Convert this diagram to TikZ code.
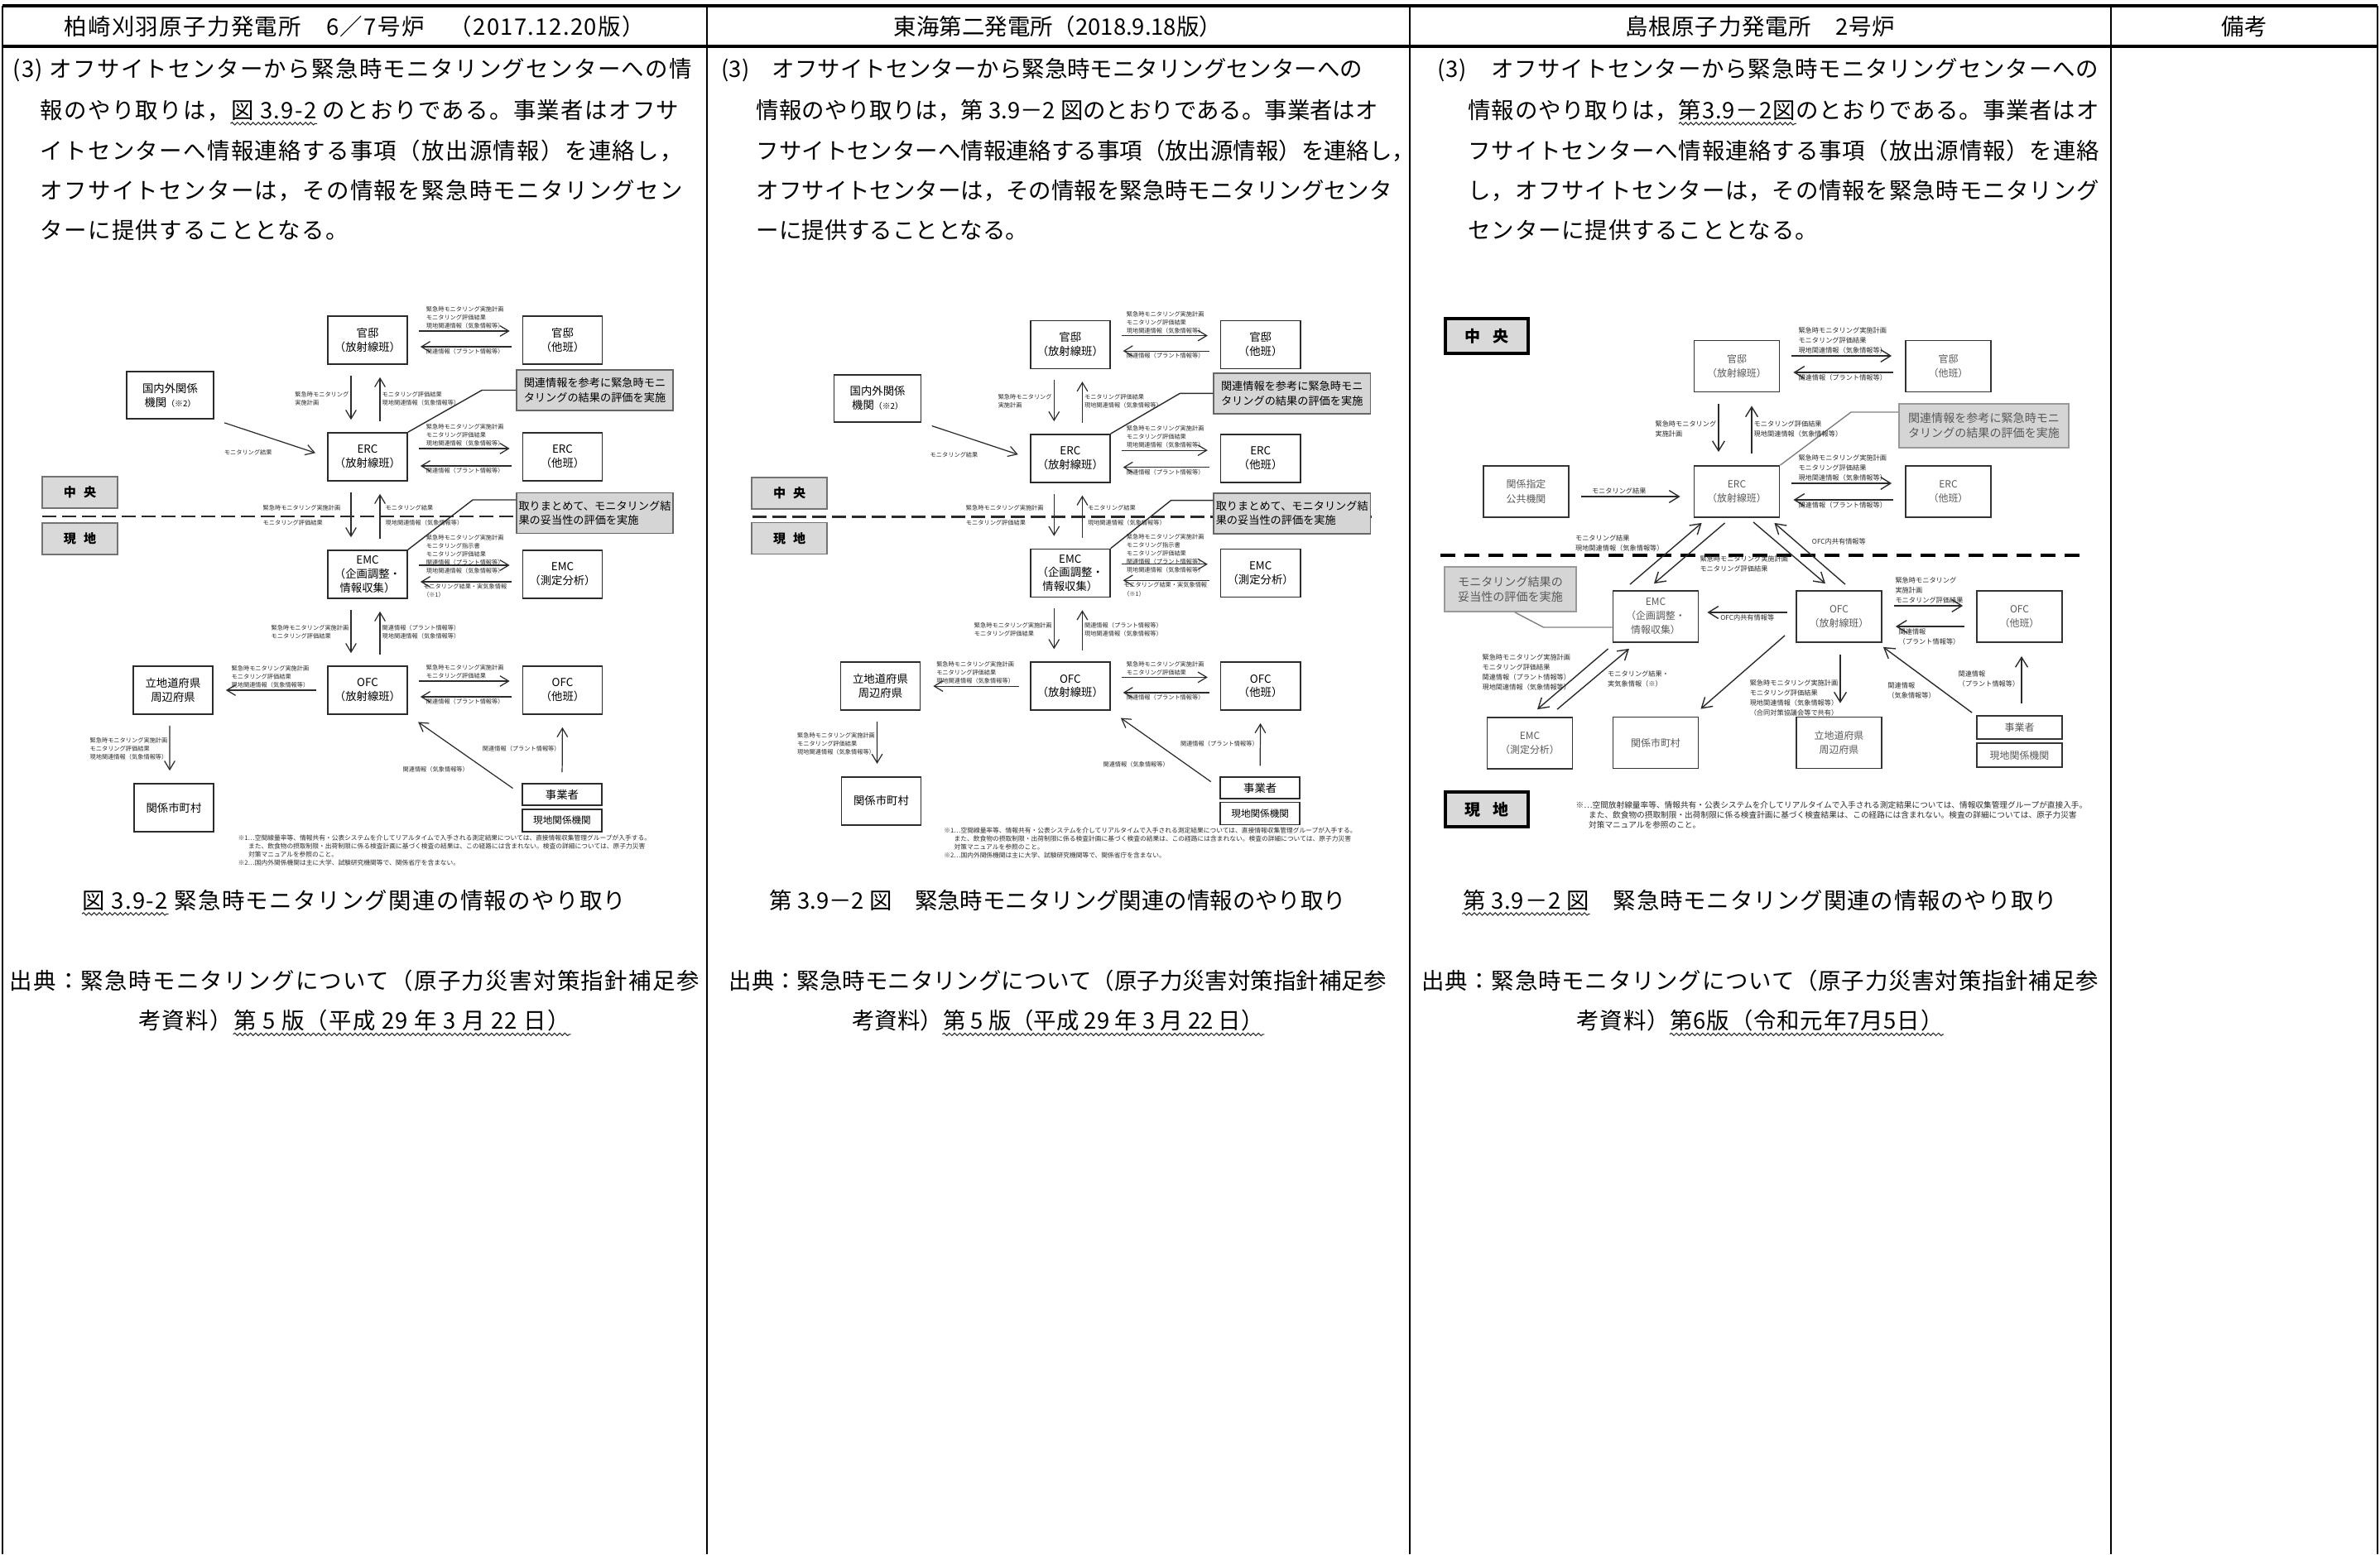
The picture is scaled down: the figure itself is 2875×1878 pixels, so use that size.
\documentclass[tikz,border=0pt]{standalone}
\usepackage{fontspec}
\setmainfont{Noto Sans CJK JP}
\newfontfamily\colAfont[LetterSpace=5]{Noto Sans CJK JP}
\newfontfamily\colCfont[LetterSpace=3]{Noto Sans CJK JP}
\usetikzlibrary{arrows.meta, decorations.pathmorphing}
\definecolor{line-dark}{HTML}{2B2B2B}
\definecolor{note-gray}{HTML}{D5D5D5}
\definecolor{area-gray}{HTML}{D9D9D9}

% one monitoring flow chart (drawn twice)
\newcommand{\monitorflow}{%
  \draw[cutline] (51,624) -- (817,624);
  \node[areabox] (chuo) at (96.5,595) {中\hspace{0.6em}央};
  \node[areabox] (genchi) at (96.5,651) {現\hspace{0.6em}地};
  \node[ubox, minimum width=1.05cm, minimum height=0.57cm] (kokunai) at (205.5,477.5)
        {国内外関係\\機関{\fontsize{2.8}{3}\selectfont（※2）}};
  \node[ubox] (kanA) at (444,411) {官邸\\（放射線班）};
  \node[ubox] (kanB) at (679.5,411) {官邸\\（他班）};
  \node[ubox] (ercA) at (444,552) {ERC\\（放射線班）};
  \node[ubox] (ercB) at (679.5,552) {ERC\\（他班）};
  \node[ubox] (emcA) at (444,694) {EMC\\（企画調整・\\情報収集）};
  \node[ubox] (emcB) at (679.5,694) {EMC\\（測定分析）};
  \node[ubox] (ofcA) at (444,834) {OFC\\（放射線班）};
  \node[ubox] (ofcB) at (679.5,834) {OFC\\（他班）};
  \node[ubox] (ritchi) at (209,834) {立地道府県\\周辺府県};
  \node[ubox] (shichoson) at (210,976) {関係市町村};
  \node[ubox, minimum height=0.26cm] (jigyo) at (679,960) {事業者};
  \node[ubox, minimum height=0.27cm, font=\fontsize{3.3}{4}\selectfont] (kikan) at (679,991.5) {現地関係機関};
  \node[notebox] (note1) at (718.5,471.5) {関連情報を参考に緊急時モニ\\タリングの結果の評価を実施};
  \node[notebox] (note2) at (718.5,620) {取りまとめて、モニタリング結\\果の妥当性の評価を実施};
  \draw[tieline] (ercA.north east) -- ([xshift=-0.41cm]note1.west) -- (note1.west);
  \draw[tieline] (emcA.north east) -- ([xshift=-0.52cm, yshift=0.16cm]note2.west) -- ([yshift=0.16cm]note2.west);
  \draw[flow] ([yshift=0.11cm]kanA.east) -- ([yshift=0.11cm]kanB.west)
    node[lbl, midway, above] (l1) {緊急時モニタリング実施計画\\モニタリング評価結果\\現地関連情報（気象情報等）};
  \draw[flow] ([yshift=-0.08cm]kanB.west) -- ([yshift=-0.08cm]kanA.east)
    node[lbl, midway, below] (l2) {関連情報（プラント情報等）};
  \draw[flow] ([xshift=-0.2cm]kanA.south) -- ([xshift=-0.2cm]ercA.north)
    node[lbl, midway, left] (l3) {緊急時モニタリング\\実施計画};
  \draw[flow] ([xshift=0.15cm]ercA.north) -- ([xshift=0.15cm]kanA.south)
    node[lbl, midway, right] (l4) {モニタリング評価結果\\現地関連情報（気象情報等）};
  \draw[flow] (kokunai.south east) -- (ercA.west)
    node[lbl, pos=0.3, below=0.2cm] (l5) {モニタリング結果};
  \draw[flow] ([yshift=0.1cm]ercA.east) -- ([yshift=0.1cm]ercB.west)
    node[lbl, midway, above] (l6) {緊急時モニタリング実施計画\\モニタリング評価結果\\現地関連情報（気象情報等）};
  \draw[flow] ([yshift=-0.11cm]ercB.west) -- ([yshift=-0.11cm]ercA.east)
    node[lbl, midway, below] (l7) {関連情報（プラント情報等）};
  \draw[flow] ([xshift=-0.2cm]ercA.south) -- ([xshift=-0.2cm]emcA.north)
    node[lbl, midway, left=0.1cm] (l8) {緊急時モニタリング実施計画\\[2.3pt]モニタリング評価結果};
  \draw[flow] ([xshift=0.15cm]emcA.north) -- ([xshift=0.15cm]ercA.south)
    node[lbl, midway, right=0.04cm] (l9) {モニタリング結果\\[2.3pt]現地関連情報（気象情報等）};
  \draw[flow] ([yshift=0.11cm]emcA.east) -- ([yshift=0.11cm]emcB.west)
    node[lbl, midway, yshift=0.13cm] (l10) {緊急時モニタリング実施計画\\モニタリング指示書\\モニタリング評価結果\\関連情報（プラント情報等）\\現地関連情報（気象情報等）};
  \draw[flow] ([yshift=-0.09cm]emcB.west) -- ([yshift=-0.09cm]emcA.east)
    node[lbl, midway, below] (l11) {モニタリング結果・実気象情報\\（※1）};
  \draw[flow] ([xshift=-0.2cm]emcA.south) -- ([xshift=-0.2cm]ofcA.north)
    node[lbl, midway, left] (l12) {緊急時モニタリング実施計画\\モニタリング評価結果};
  \draw[flow] ([xshift=0.15cm]ofcA.north) -- ([xshift=0.15cm]emcA.south)
    node[lbl, midway, right] (l13) {関連情報（プラント情報等）\\現地関連情報（気象情報等）};
  \draw[flow] ([yshift=0.11cm]ofcA.east) -- ([yshift=0.11cm]ofcB.west)
    node[lbl, midway, above] (l14) {緊急時モニタリング実施計画\\モニタリング評価結果};
  \draw[flow] ([yshift=-0.08cm]ofcB.west) -- ([yshift=-0.08cm]ofcA.east)
    node[lbl, midway, below] (l15) {関連情報（プラント情報等）};
  \draw[flow] (ofcA.west) -- (ritchi.east)
    node[lbl, midway, above] (l16) {緊急時モニタリング実施計画\\モニタリング評価結果\\現地関連情報（気象情報等）};
  \draw[flow] ([xshift=-0.04cm]ritchi.south) -- ([xshift=-0.05cm]shichoson.north)
    node[lbl, midway, left] (l17) {緊急時モニタリング実施計画\\モニタリング評価結果\\現地関連情報（気象情報等）};
  \draw[flow] (jigyo.west) -- (ofcA.south east)
    node[lbl, midway, below left, xshift=0.07cm, yshift=-0.12cm] (l18) {関連情報（気象情報等）};
  \draw[flow] (jigyo.north) -- (ofcB.south)
    node[lbl, midway, left] (l19) {関連情報（プラント情報等）};
  \node[fnote] (fn) at (287,1008)
    {※1…空間線量率等、情報共有・公表システムを介してリアルタイムで入手される測定結果については、直接情報収集管理グループが入手する。\\
     \hspace*{1.6em}また、飲食物の摂取制限・出荷制限に係る検査計画に基づく検査の結果は、この経路には含まれない。検査の詳細については、原子力災害\\
     \hspace*{1.6em}対策マニュアルを参照のこと。\\
     ※2…国内外関係機関は主に大学、試験研究機関等で、関係省庁を含まない。};
}

\begin{document}
\begin{tikzpicture}[x=0.01cm, y=-0.01cm,
    hdr/.style={inner sep=0pt, anchor=base},
    bodyline/.style={inner sep=0pt, anchor=base west},
    fontA/.style={font=\colAfont\fontsize{7.8}{11}\selectfont},
    fontB/.style={font=\fontsize{7.8}{11}\selectfont},
    fontC/.style={font=\colCfont\fontsize{7.8}{11}\selectfont},
    ghost/.style={inner sep=0pt},
    wavyline/.style={decorate, decoration={snake, amplitude=0.45pt, segment length=1.8pt}, line width=0.3pt, draw=line-dark},
    ubox/.style={draw=line-dark, line width=0.45pt, fill=white, align=center, inner sep=0pt,
                 minimum width=0.96cm, minimum height=0.58cm, font=\fontsize{3.8}{4.8}\selectfont},
    notebox/.style={draw=black!60, line width=0.45pt, fill=note-gray, align=left, inner sep=0pt,
                    minimum width=1.89cm, minimum height=0.49cm, font=\fontsize{3.75}{4.9}\selectfont},
    areabox/.style={draw=black!55, line width=0.45pt, fill=area-gray, inner sep=0pt,
                    minimum width=0.91cm, minimum height=0.38cm, font=\fontsize{4.3}{5}\selectfont\bfseries},
    flow/.style={-{Straight Barb[length=3pt,width=3.6pt]}, line width=0.35pt, draw=line-dark,
                 shorten <=0.13cm, shorten >=0.15cm},
    lbl/.style={inner sep=0.02cm, align=left, text=line-dark, font=\fontsize{2.05}{2.85}\selectfont},
    tieline/.style={line width=0.4pt, draw=line-dark},
    cutline/.style={line width=0.75pt, dash pattern=on 0.17cm off 0.07cm, draw=line-dark},
    fnote/.style={inner sep=0pt, align=left, anchor=north west, text=line-dark, font=\fontsize{2.2}{2.85}\selectfont},
    u3box/.style={draw=black!80, line width=0.5pt, fill=white, align=center, inner sep=0pt, text=black!65,
                  minimum width=1.03cm, minimum height=0.62cm, font=\fontsize{3.4}{4.85}\selectfont},
    note3/.style={draw=black!40, line width=0.5pt, fill=note-gray, align=left, inner sep=0pt, text=black!65,
                  font=\fontsize{4}{5.1}\selectfont},
    area3/.style={draw=black, line width=1pt, fill=area-gray, inner sep=0pt,
                  minimum width=1cm, minimum height=0.42cm, font=\fontsize{5.4}{6}\selectfont\bfseries},
    flow3/.style={-{Straight Barb[length=3.4pt,width=4.2pt]}, line width=0.4pt, draw=line-dark,
                  shorten <=0.14cm, shorten >=0.16cm},
    diag3/.style={flow3, shorten <=0pt, shorten >=0pt},
    lbl3/.style={inner sep=0.02cm, align=left, text=line-dark, font=\fontsize{2.33}{3.4}\selectfont},
    tie3/.style={line width=0.4pt, draw=black!50},
    cutline3/.style={line width=1.1pt, dash pattern=on 0.18cm off 0.11cm, draw=black},
    fnote3/.style={inner sep=0pt, align=left, anchor=north west, text=line-dark, font=\fontsize{2.75}{3.4}\selectfont}]
  \useasboundingbox (0,0) rectangle (2875,1878);
  \fill[white] (0,0) rectangle (2875,1878);

  \draw[line width=0.9pt] (3,7) -- (2872,7);
  \draw[line width=0.9pt] (3,56) -- (2872,56);
  \foreach \cx in {3,854,1703,2550,2872}
    \draw[line width=0.5pt] (\cx,7) -- (\cx,1878);

  \node[hdr, fontA] (h1) at (428,42) {柏崎刈羽原子力発電所　6／7号炉　（2017.12.20版）};
  \node[hdr, fontB] (h2) at (1278,42) {東海第二発電所（2018.9.18版）};
  \node[hdr, fontC] (h3) at (2126,42) {島根原子力発電所　2号炉};
  \node[hdr, fontB] (h4) at (2711,42) {備考};

  \node[bodyline, fontA] (a1) at (15,93) {(3) オフサイトセンターから緊急時モニタリングセンターへの情};
  \node[bodyline, fontA] (a2) at (48,143) {報のやり取りは，図 3.9-2 のとおりである。事業者はオフサ};
  \node[bodyline, fontA] (a3) at (48,192) {イトセンターへ情報連絡する事項（放出源情報）を連絡し，};
  \node[bodyline, fontA] (a4) at (48,240) {オフサイトセンターは，その情報を緊急時モニタリングセン};
  \node[bodyline, fontA] (a5) at (48,288) {ターに提供することとなる。};
  \node[ghost, fontA, anchor=base west] (a2p) at (a2.base west) {\phantom{報のやり取りは，}};
  \node[ghost, fontA, anchor=base west] (a2u) at (a2p.base east) {\phantom{図 3.9-2}};
  \draw[wavyline] ([yshift=-1pt]a2u.south west) -- ([yshift=-1pt]a2u.south east);

  \node[bodyline, fontB] (b1) at (871,93) {(3)　オフサイトセンターから緊急時モニタリングセンターへの};
  \node[bodyline, fontB] (b2) at (913,143) {情報のやり取りは，第 3.9－2 図のとおりである。事業者はオ};
  \node[bodyline, fontB] (b3) at (913,192) {フサイトセンターへ情報連絡する事項（放出源情報）を連絡し，};
  \node[bodyline, fontB] (b4) at (913,240) {オフサイトセンターは，その情報を緊急時モニタリングセンタ};
  \node[bodyline, fontB] (b5) at (913,288) {ーに提供することとなる。};

  \node[bodyline, fontC] (c1) at (1736,93) {(3)　オフサイトセンターから緊急時モニタリングセンターへの};
  \node[bodyline, fontC] (c2) at (1773,143) {情報のやり取りは，第3.9－2図のとおりである。事業者はオ};
  \node[bodyline, fontC] (c3) at (1773,192) {フサイトセンターへ情報連絡する事項（放出源情報）を連絡};
  \node[bodyline, fontC] (c4) at (1773,240) {し，オフサイトセンターは，その情報を緊急時モニタリング};
  \node[bodyline, fontC] (c5) at (1773,288) {センターに提供することとなる。};
  \node[ghost, fontC, anchor=base west] (c2p) at (c2.base west) {\phantom{情報のやり取りは，}};
  \node[ghost, fontC, anchor=base west] (c2u) at (c2p.base east) {\phantom{第3.9－2図}};
  \draw[wavyline] ([yshift=-1pt]c2u.south west) -- ([yshift=-1pt]c2u.south east);

  \monitorflow
  \begin{scope}[shift={(859.5,15.2)}, scale=0.976]
    \monitorflow
  \end{scope}

  \draw[cutline3] (1740,671) -- (2520,671);
  \node[area3] (chuo3) at (1796,406) {中\hspace{0.8em}央};
  \node[area3] (genchi3) at (1796,978) {現\hspace{0.8em}地};
  \node[u3box] (kan3A) at (2098,442.5) {官邸\\（放射線班）};
  \node[u3box] (kan3B) at (2353.5,442.5) {官邸\\（他班）};
  \node[note3, minimum width=2.05cm, minimum height=0.53cm] (note3a) at (2396.5,514.5)
        {関連情報を参考に緊急時モニ\\タリングの結果の評価を実施};
  \node[u3box] (kankei3) at (1843.5,594) {関係指定\\公共機関};
  \node[u3box] (erc3A) at (2098,594) {ERC\\（放射線班）};
  \node[u3box] (erc3B) at (2353.5,594) {ERC\\（他班）};
  \node[note3, minimum width=1.59cm, minimum height=0.54cm] (note3b) at (1824.5,712)
        {モニタリング結果の\\妥当性の評価を実施};
  \node[u3box] (emc3A) at (2000,745) {EMC\\（企画調整・\\情報収集）};
  \node[u3box] (ofc3A) at (2221.5,745) {OFC\\（放射線班）};
  \node[u3box] (ofc3B) at (2439.5,745) {OFC\\（他班）};
  \node[u3box] (emc3B) at (1848,898) {EMC\\（測定分析）};
  \node[u3box] (shichoson3) at (2000,897.5) {関係市町村};
  \node[u3box] (ritchi3) at (2221.5,897.5) {立地道府県\\周辺府県};
  \node[u3box, minimum height=0.28cm] (jigyo3) at (2439.5,879) {事業者};
  \node[u3box, minimum height=0.29cm] (kikan3) at (2439.5,912.5) {現地関係機関};

  \draw[tie3] (erc3A.north east) -- ([xshift=-0.57cm, yshift=0.165cm]note3a.west) -- ([yshift=0.165cm]note3a.west);
  \draw[tie3] ([xshift=0.055cm]note3b.south) -- ([xshift=-0.83cm, yshift=-0.13cm]emc3A.west) -- ([yshift=-0.13cm]emc3A.west);

  \draw[flow3] ([yshift=0.125cm]kan3A.east) -- ([yshift=0.125cm]kan3B.west)
    node[lbl3, midway, above] (m1) {緊急時モニタリング実施計画\\モニタリング評価結果\\現地関連情報（気象情報等）};
  \draw[flow3] ([yshift=-0.075cm]kan3B.west) -- ([yshift=-0.075cm]kan3A.east)
    node[lbl3, midway, below] (m2) {関連情報（プラント情報等）};
  \draw[flow3] ([xshift=-0.22cm]kan3A.south) -- ([xshift=-0.22cm]erc3A.north)
    node[lbl3, midway, left] (m3) {緊急時モニタリング\\実施計画};
  \draw[flow3] ([xshift=0.18cm]erc3A.north) -- ([xshift=0.18cm]kan3A.south)
    node[lbl3, midway, right] (m4) {モニタリング評価結果\\現地関連情報（気象情報等）};
  \draw[flow3] ([yshift=-0.06cm]kankei3.east) -- ([yshift=-0.06cm]erc3A.west)
    node[lbl3, pos=0.4, above] (m5) {モニタリング結果};
  \draw[flow3] ([yshift=0.1cm]erc3A.east) -- ([yshift=0.1cm]erc3B.west)
    node[lbl3, midway, above] (m6) {緊急時モニタリング実施計画\\モニタリング評価結果\\現地関連情報（気象情報等）};
  \draw[flow3] ([yshift=-0.1cm]erc3B.west) -- ([yshift=-0.1cm]erc3A.east)
    node[lbl3, midway, below] (m7) {関連情報（プラント情報等）};
  \draw[diag3] ([xshift=-0.31cm, yshift=0.07cm]emc3A.north) -- ([xshift=0.1cm, yshift=-0.06cm]erc3A.south west)
    node[lbl3, midway, above left] (m8) {モニタリング結果\\現地関連情報（気象情報等）};
  \draw[diag3] ([xshift=0.38cm, yshift=-0.06cm]erc3A.south west) -- ([xshift=-0.02cm, yshift=0.08cm]emc3A.north)
    node[lbl3, midway, below right, xshift=0.1cm] (m9) {緊急時モニタリング実施計画\\モニタリング評価結果};
  \draw[diag3] ([xshift=0.2cm, yshift=-0.05cm]erc3A.south) -- ([xshift=-0.165cm, yshift=0.08cm]ofc3A.north);
  \draw[diag3] ([xshift=0.075cm, yshift=0.07cm]ofc3A.north) -- ([xshift=-0.07cm, yshift=-0.06cm]erc3A.south east)
    node[lbl3, midway, above right, yshift=0.08cm] (m10) {OFC内共有情報等};
  \draw[diag3] ([xshift=-0.1cm, yshift=0.05cm]ofc3A.west) -- ([xshift=0.1cm, yshift=0.05cm]emc3A.east)
    node[lbl3, midway, below] (m11) {OFC内共有情報等};
  \draw[flow3] ([yshift=0.13cm]ofc3A.east) -- ([yshift=0.13cm]ofc3B.west)
    node[lbl3, midway, above] (m12) {緊急時モニタリング\\実施計画\\モニタリング評価結果};
  \draw[flow3] ([yshift=-0.12cm]ofc3B.west) -- ([yshift=-0.12cm]ofc3A.east)
    node[lbl3, midway, below] (m13) {関連情報\\（プラント情報等）};
  \draw[diag3] ([xshift=-0.13cm, yshift=0.09cm]ofc3A.south west) -- ([xshift=0.02cm, yshift=0.09cm]shichoson3.north east);
  \draw[flow3] ([xshift=0.015cm]ofc3A.south) -- ([xshift=0.015cm]ritchi3.north)
    node[lbl3, pos=0.75, left] (m14) {緊急時モニタリング実施計画\\モニタリング評価結果\\現地関連情報（気象情報等）\\（合同対策協議会等で共有）};
  \draw[diag3] ([xshift=-0.05cm, yshift=0.03cm]jigyo3.north west) -- ([xshift=0.01cm, yshift=-0.05cm]ofc3A.south east)
    node[lbl3, midway, below left, xshift=0.12cm] (m15) {関連情報\\（気象情報等）};
  \draw[flow3] ([xshift=0.025cm]jigyo3.north) -- ([xshift=0.025cm]ofc3B.south)
    node[lbl3, midway, left] (m16) {関連情報\\（プラント情報等）};
  \draw[diag3] ([xshift=-0.05cm, yshift=-0.07cm]emc3A.south west) -- ([xshift=0.09cm, yshift=0.09cm]emc3B.north)
    node[lbl3, midway, left, yshift=0.08cm] (m17) {緊急時モニタリング実施計画\\モニタリング評価結果\\関連情報（プラント情報等）\\現地関連情報（気象情報等）};
  \draw[diag3] ([xshift=0.33cm, yshift=0.09cm]emc3B.north) -- ([xshift=-0.32cm, yshift=-0.07cm]emc3A.south)
    node[lbl3, midway, right, xshift=0.15cm] (m18) {モニタリング結果・\\実気象情報（※）};
  \node[fnote3] (fn3) at (1903,968)
    {※…空間放射線量率等、情報共有・公表システムを介してリアルタイムで入手される測定結果については、情報収集管理グループが直接入手。\\
     \hspace*{1.6em}また、飲食物の摂取制限・出荷制限に係る検査計画に基づく検査結果は、この経路には含まれない。検査の詳細については、原子力災害\\
     \hspace*{1.6em}対策マニュアルを参照のこと。};

  \node[hdr, fontA] (cap1) at (428,1098) {図 3.9-2 緊急時モニタリング関連の情報のやり取り};
  \node[hdr, fontB] (cap2) at (1278,1098) {第 3.9－2 図　緊急時モニタリング関連の情報のやり取り};
  \node[hdr, fontC] (cap3) at (2126,1098) {第 3.9－2 図　緊急時モニタリング関連の情報のやり取り};
  \node[ghost, fontA, anchor=base west] (cap1u) at (cap1.base west) {\phantom{図 3.9-2}};
  \node[ghost, fontC, anchor=base west] (cap3u) at (cap3.base west) {\phantom{第 3.9－2 図}};
  \draw[wavyline] ([yshift=-1pt]cap1u.south west) -- ([yshift=-1pt]cap1u.south east);
  \draw[wavyline] ([yshift=-1pt]cap3u.south west) -- ([yshift=-1pt]cap3u.south east);

  \node[hdr, fontA] (src1a) at (428,1195) {出典：緊急時モニタリングについて（原子力災害対策指針補足参};
  \node[hdr, fontA] (src1b) at (428,1243) {考資料）第 5 版（平成 29 年 3 月 22 日）};
  \node[hdr, fontB] (src2a) at (1278,1195) {出典：緊急時モニタリングについて（原子力災害対策指針補足参};
  \node[hdr, fontB] (src2b) at (1278,1243) {考資料）第 5 版（平成 29 年 3 月 22 日）};
  \node[hdr, fontC] (src3a) at (2126,1195) {出典：緊急時モニタリングについて（原子力災害対策指針補足参};
  \node[hdr, fontC] (src3b) at (2126,1243) {考資料）第6版（令和元年7月5日）};
  \node[ghost, fontA, anchor=base east] (src1u) at (src1b.base east) {\phantom{第 5 版（平成 29 年 3 月 22 日）}};
  \node[ghost, fontB, anchor=base east] (src2u) at (src2b.base east) {\phantom{第 5 版（平成 29 年 3 月 22 日）}};
  \node[ghost, fontC, anchor=base east] (src3u) at (src3b.base east) {\phantom{第6版（令和元年7月5日）}};
  \draw[wavyline] ([yshift=-1pt]src1u.south west) -- ([yshift=-1pt]src1u.south east);
  \draw[wavyline] ([yshift=-1pt]src2u.south west) -- ([yshift=-1pt]src2u.south east);
  \draw[wavyline] ([yshift=-1pt]src3u.south west) -- ([yshift=-1pt]src3u.south east);
\end{tikzpicture}
\end{document}
